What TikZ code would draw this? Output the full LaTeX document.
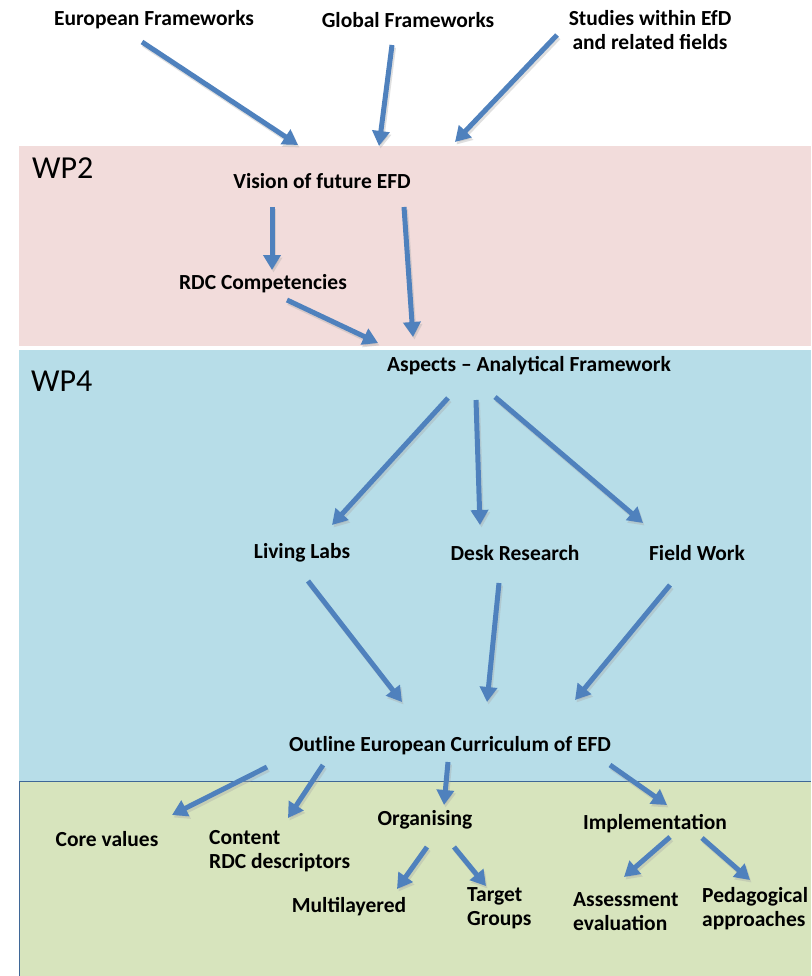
\documentclass[tikz,border=0pt]{standalone}
\usepackage{fontspec}
\setmainfont{Carlito}
\usetikzlibrary{arrows.meta,calc}
\definecolor{pinkband}{HTML}{F2DCDB}
\definecolor{blueband}{HTML}{B7DDE8}
\definecolor{greenband}{HTML}{D7E4BD}
\definecolor{arrowblue}{HTML}{4F81BD}
\begin{document}
\begin{tikzpicture}[x=1pt,y=-1pt,
  lbl/.style={font=\fontsize{21.5}{24}\selectfont\bfseries, inner sep=0pt, align=center},
  lbll/.style={font=\fontsize{21.5}{24}\selectfont\bfseries, inner sep=0pt, align=left, anchor=west},
  wp/.style={font=\fontsize{32}{36}\selectfont, inner sep=0pt, anchor=west},
  arr/.style={draw=arrowblue, line width=5pt, -{Triangle[length=15pt,width=17pt]}},
  shadowarr/.style={draw=black!35, opacity=0.35, line width=5pt, -{Triangle[length=15pt,width=17pt]}}
]
\useasboundingbox (0,0) rectangle (811,976);
\fill[white] (0,0) rectangle (811,976);
% bands
\fill[pinkband] (19,146) rectangle (811,346);
\fill[blueband] (19,350) rectangle (811,781);
\fill[greenband] (19,781) rectangle (811,976);
\draw[arrowblue!80!black, line width=0.8pt] (19,976) -- (19,781) -- (811,781);

\node[wp] (wp2) at (32,168) {WP2};
\node[wp] (wp4) at (31,381) {WP4};

% labels
\node[lbl] (euro) at (154,20) {European Frameworks};
\node[lbl] (glob) at (408,20) {Global Frameworks};
\node[lbl] (stud) at (650,30) {Studies within EfD\\and related fields};
\node[lbl] (vis) at (322,181) {Vision of future EFD};
\node[lbl] (rdc) at (263,284) {RDC Competencies};
\node[lbl] (asp) at (529,366) {Aspects -- Analytical Framework};
\node[lbl] (ll) at (302,553) {Living Labs};
\node[lbl] (desk) at (515,553) {Desk Research};
\node[lbl] (fw) at (697,553) {Field Work};
\node[lbl] (out) at (450,746) {Outline European Curriculum of EFD};
\node[lbl] (core) at (107,839) {Core values};
\node[lbll] (cont) at (209,851) {Content\\RDC descriptors};
\node[lbl] (org) at (425,820) {Organising};
\node[lbl] (impl) at (655,824) {Implementation};
\node[lbl] (multi) at (349,907) {Multilayered};
\node[lbll] (targ) at (467,908) {Target\\Groups};
\node[lbll] (assess) at (573,912) {Assessment\\evaluation};
\node[lbll] (ped) at (702,909) {Pedagogical\\approaches};

% arrows (relative to named nodes)
\foreach \a/\sa/\b/\sb in {
  euro/{-12,22}/vis/{-24,-36},
  glob/{-16,25}/vis/{57,-35},
  stud/{-93,5}/vis/{133,-39},
  vis/{-50,26}/rdc/{9,-14},
  vis/{82,26}/asp/{-116,-29},
  rdc/{24,16}/asp/{-151,-23},
  asp/{-81,32}/ll/{30,-28},
  asp/{-53,34}/desk/{-35,-28},
  asp/{-34,31}/fw/{-54,-30},
  ll/{6,28}/out/{-48,-44},
  desk/{-16,30}/out/{37,-44},
  fw/{-27,32}/out/{125,-46},
  out/{-183,21}/core/{65,-24},
  out/{-127,19}/cont.west/{79,-33},
  out/{-2,16}/org/{19,-15},
  out/{160,19}/impl/{12,-19},
  org/{2,27}/multi/{48,-18},
  org/{29,27}/targ.west/{19,-22},
  impl/{15,13}/assess.west/{51,-35},
  impl/{47,14}/ped.west/{48,-29}}
{
  \draw[shadowarr] ($(\a)+(\sa)+(1.5,2.5)$) -- ($(\b)+(\sb)+(1.5,2.5)$);
  \draw[arr] ($(\a)+(\sa)$) -- ($(\b)+(\sb)$);
}
\end{tikzpicture}
\end{document}
